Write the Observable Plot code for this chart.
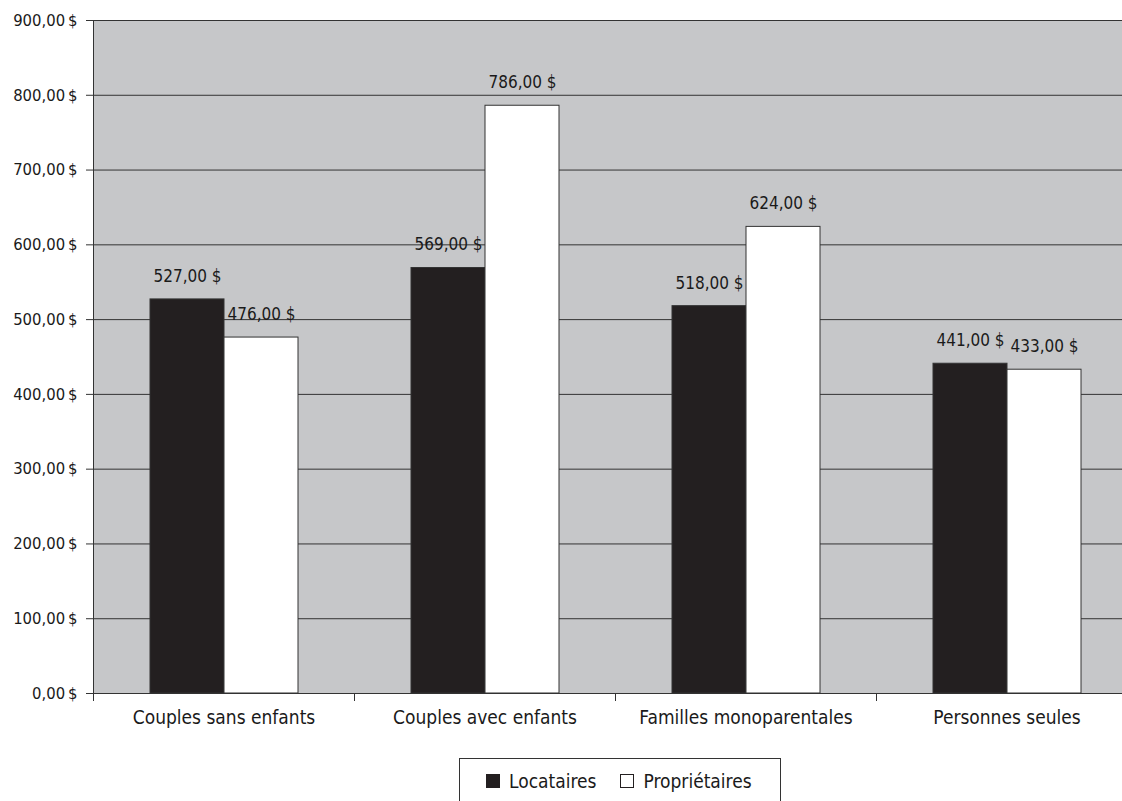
<!DOCTYPE html>
<html>
<head>
<meta charset="utf-8">
<script src="https://cdn.jsdelivr.net/npm/d3@7"></script>
<script src="https://cdn.jsdelivr.net/npm/@observablehq/plot@0.6"></script>
<style>
  html, body { margin: 0; padding: 0; overflow: hidden; background: #fff; }
  #chart {
    position: relative; width: 1122px; height: 801px; overflow: hidden;
    font-family: "Liberation Sans Narrow", "DejaVu Sans Condensed", "Arial Narrow", sans-serif;
    color: #1a1a1a;
  }
  #chart svg { max-width: none !important; }
  #legend {
    position: absolute; left: 459px; top: 758px; width: 322px; height: 70px;
    box-sizing: border-box; border: 1px solid #333; background: #fff;
    display: flex; align-items: flex-start; padding: 13px 0 0 26px; font-size: 19px;
  }
  #legend .item { display: flex; align-items: center; height: 18px; }
  #legend .sw { width: 14px; height: 14px; box-sizing: border-box; border: 1px solid #231f20; margin-right: 9px; }
  #legend .item + .item { margin-left: 24px; }
</style>
</head>
<body>
<div id="chart"></div>
<script>
// Dépenses mensuelles moyennes de logement selon le type de ménage
const categories = ["Couples sans enfants", "Couples avec enfants", "Familles monoparentales", "Personnes seules"];
const series = ["Locataires", "Propriétaires"];
const locataires = [527, 569, 518, 441];
const proprietaires = [476, 786, 624, 433];
const yTicks = [0, 100, 200, 300, 400, 500, 600, 700, 800, 900];

const seriesColors = ["#231f20", "#ffffff"];
const areaGrey = "#c6c7c9";
const font = `"Liberation Sans Narrow", "DejaVu Sans Condensed", "Arial Narrow", sans-serif`;

const rows = categories.flatMap((category, i) => [
  {category, series: series[0], value: locataires[i]},
  {category, series: series[1], value: proprietaires[i]}
]);

const money = v => v.toFixed(2).replace(".", ",");

const chart = Plot.plot({
  width: 1137,
  height: 740,
  marginLeft: 93,
  marginRight: 0,
  marginTop: 20,
  marginBottom: 40,
  style: {fontFamily: font, fontSize: "19px", color: "#1a1a1a", background: "transparent", overflow: "visible", maxWidth: "none"},
  fx: {domain: categories, padding: 0, label: null},
  x: {domain: series, paddingInner: 0, paddingOuter: 0.757, axis: null},
  y: {domain: [0, 900], insetBottom: 7, axis: null, label: null},
  color: {domain: series, range: seriesColors},
  marks: [
    // grey plot area (stroked in the same grey so adjacent facets join seamlessly)
    Plot.frame({fill: areaGrey, stroke: areaGrey, insetBottom: 7}),
    Plot.gridY(yTicks, {stroke: "#333", strokeOpacity: 1}),
    Plot.barY(rows, {fx: "category", x: "series", y: "value", fill: "series", stroke: "#333", strokeWidth: 1}),
    Plot.text(rows, {
      fx: "category", x: "series", y: "value",
      text: d => money(d.value) + " $",
      dy: -23, fontSize: 17, fill: "#1a1a1a"
    }),
    // vertical axis line, and the small ticks between categories
    Plot.frame({anchor: "left", stroke: "#333", facetAnchor: "left"}),
    Plot.frame({anchor: "left", stroke: "#333", insetTop: 673}),
    Plot.axisY(yTicks, {tickSize: 7, tickPadding: 9, tickFormat: d => money(d) + "\u2009$", fontSize: 16.5, stroke: "#333", label: null}),
    Plot.axisFx({anchor: "bottom", tickSize: 0, tickPadding: 10, fontSize: 19, label: null})
  ]
});

const root = document.getElementById("chart");
root.appendChild(chart);

// legend below the chart
const legend = document.createElement("div");
legend.id = "legend";
series.forEach((name, i) => {
  const item = document.createElement("div");
  item.className = "item";
  const sw = document.createElement("span");
  sw.className = "sw";
  sw.style.background = seriesColors[i];
  const label = document.createElement("span");
  label.textContent = name;
  item.append(sw, label);
  legend.appendChild(item);
});
root.appendChild(legend);
</script>
</body>
</html>
